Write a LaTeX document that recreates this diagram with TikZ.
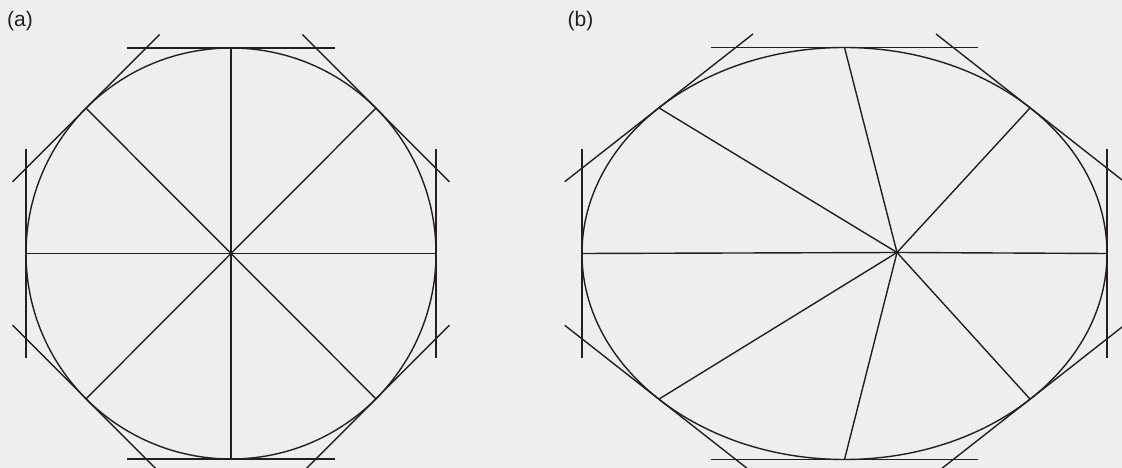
\documentclass[tikz,border=0pt]{standalone}
\usepackage{fontspec}
\setmainfont{Liberation Sans}
\definecolor{bg}{HTML}{EEEEEE}
\definecolor{ink}{HTML}{231F20}
\begin{document}
\begin{tikzpicture}[x=1pt,y=1pt]
\tikzset{
  outline/.style={draw=ink,line width=1.4pt},
  spoke/.style={draw=ink,line width=1.4pt},
  tangentline/.style={draw=ink,line width=1.4pt},
  label/.style={font=\fontsize{21}{24}\selectfont,text=ink,inner sep=0pt}
}
\fill[bg] (0,0) rectangle (1122,468);
\useasboundingbox (0,0) rectangle (1122,468);
\node[label] (la) at (20,447) {(a)};
\node[label] (lb) at (580.5,447) {(b)};
\foreach \cx/\cy/\a/\b/\ox/\oy/\n in {231/214.5/205/205.5/231/214.5/a, 844.5/214.5/262.5/206/897/215.5/b} {
  \coordinate (O\n) at (\ox,\oy);
  \draw[outline] (\cx,\cy) ellipse [x radius=\a, y radius=\b];
  \foreach \t in {0,45,...,315} {
    \coordinate (P\n-\t) at ({\cx+\a*cos(\t)},{\cy+\b*sin(\t)});
    \coordinate (S\n-\t) at ({\cx+\a*cos(\t)-0.507*\a*sin(\t)},{\cy+\b*sin(\t)+0.507*\b*cos(\t)});
    \coordinate (E\n-\t) at ({\cx+\a*cos(\t)+0.507*\a*sin(\t)},{\cy+\b*sin(\t)-0.507*\b*cos(\t)});
    \draw[spoke] (O\n) -- (P\n-\t);
    \draw[tangentline] (S\n-\t) -- (E\n-\t);
  }
}
\end{tikzpicture}
\end{document}
